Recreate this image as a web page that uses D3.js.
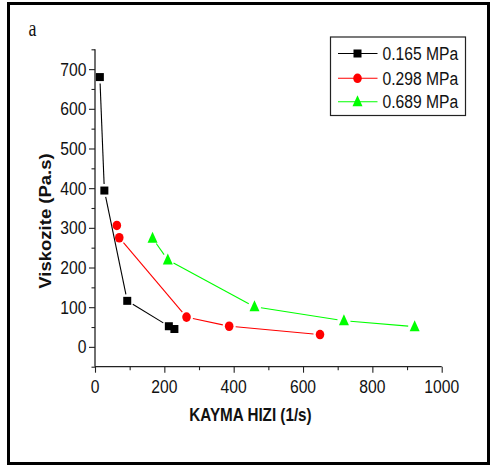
<!DOCTYPE html>
<html><head><meta charset="utf-8">
<script src="https://cdn.jsdelivr.net/npm/d3@7"></script>
<style>html,body{margin:0;padding:0;background:#fff}svg{display:block}</style>
</head><body>
<svg id="c" width="491" height="466"></svg>
<script>
const seriesNames = ["0.165 MPa", "0.298 MPa", "0.689 MPa"];
const seriesColors = ["#000000", "#ff0000", "#00ff00"];
const seriesShapes = ["square", "circle", "triangle"];
const x1 = [14, 27, 93, 213, 229];
const y1 = [680, 394, 116, 52, 45];
const x2 = [63, 70, 264, 387, 649];
const y2 = [306, 275, 75, 52, 31];
const x3 = [166, 210, 460, 718, 922];
const y3 = [274, 219, 101, 66, 51];
const xTicks = [0, 200, 400, 600, 800, 1000];
const yTicks = [0, 100, 200, 300, 400, 500, 600, 700];
const xTitle = "KAYMA HIZI (1/s)";
const yTitle = "Viskozite (Pa.s)";
const panelLabel = "a";

const series = [
  {name: seriesNames[0], color: seriesColors[0], shape: seriesShapes[0], xs: x1, ys: y1},
  {name: seriesNames[1], color: seriesColors[1], shape: seriesShapes[1], xs: x2, ys: y2},
  {name: seriesNames[2], color: seriesColors[2], shape: seriesShapes[2], xs: x3, ys: y3}
];

const svg = d3.select("#c");
const SX = 0.87; // horizontal squash of text
const font = "Arial, 'Liberation Sans', sans-serif";

// outer frame
svg.append("rect").attr("x", 8.5).attr("y", 3.5).attr("width", 480).attr("height", 460)
  .attr("fill", "none").attr("stroke", "#000").attr("stroke-width", 3);

const pl = svg.append("text").attr("x", 28.5).attr("y", 35.7).text(panelLabel)
  .attr("font-family", "'Liberation Serif', 'DejaVu Serif', serif").attr("font-size", 23).attr("fill", "#111");
pl.attr("transform", `translate(28.5,0) scale(0.78,1) translate(-28.5,0)`);

const L = 95, R = 441.7, T = 49.3, B = 366.7;
const x = d3.scaleLinear().domain([0, 1000]).range([L, R]);
const y = d3.scaleLinear().domain([-50, 750]).range([B, T]);

function sq(sel, cx, cy) {
  sel.attr("transform", `translate(${cx},${cy}) scale(${SX},1) translate(${-cx},${-cy})`);
}

// axes
const xAxis = d3.axisBottom(x).tickValues(d3.range(0, 1001, 100)).tickSize(5).tickFormat("");
const gx = svg.append("g").attr("transform", `translate(0,${B})`).call(xAxis);
gx.selectAll(".tick line").attr("y2", (d) => d % 200 === 0 ? 6 : 3.5);
const yAxis = d3.axisLeft(y).tickValues(d3.range(-50, 751, 50)).tickSize(5).tickFormat("");
const gy = svg.append("g").attr("transform", `translate(${L},0)`).call(yAxis);
gy.selectAll(".tick line").attr("x2", (d) => d % 100 === 0 ? -6 : -3.5);
[gx, gy].forEach(g => {
  g.select(".domain").attr("stroke", "#222").attr("stroke-width", 1.3);
  g.selectAll(".tick line").attr("stroke", "#222").attr("stroke-width", 1.1);
});
gy.select(".domain").attr("d", `M0,${B}V${T}`);
gx.select(".domain").attr("d", `M${L},0H${R}`);

// tick labels
xTicks.forEach(v => {
  const t = svg.append("text").attr("x", x(v)).attr("y", 393).attr("text-anchor", "middle")
    .attr("font-family", font).attr("font-size", 18).attr("fill", "#111").text(v);
  sq(t, x(v), 393);
});
yTicks.forEach(v => {
  const t = svg.append("text").attr("x", 86.5).attr("y", y(v) + 6.5).attr("text-anchor", "end")
    .attr("font-family", font).attr("font-size", 18).attr("fill", "#111").text(v);
  sq(t, 86.5, y(v));
});

// axis titles
const xt = svg.append("text").attr("x", 250.5).attr("y", 421).attr("text-anchor", "middle")
  .attr("font-family", font).attr("font-weight", "bold").attr("font-size", 17.5).attr("fill", "#111").text(xTitle);
sq(xt, 250.5, 421);
svg.append("text").attr("text-anchor", "middle")
  .attr("transform", `translate(51,221) scale(${SX},1) rotate(-90)`)
  .attr("font-family", font).attr("font-weight", "bold").attr("font-size", 18.5).attr("fill", "#111").text(yTitle);

// markers
function marker(g, shape, cx, cy, color) {
  if (shape === "square") {
    g.append("rect").attr("x", cx - 4).attr("y", cy - 4).attr("width", 8).attr("height", 8).attr("fill", color);
  } else if (shape === "circle") {
    g.append("ellipse").attr("cx", cx).attr("cy", cy).attr("rx", 4.3).attr("ry", 4.8).attr("fill", color);
  } else {
    g.append("path").attr("d", `M${cx},${cy - 6.5}L${cx + 5},${cy + 4.5}L${cx - 5},${cy + 4.5}Z`).attr("fill", color);
  }
}

const gap = 6.5;
series.forEach(s => {
  const g = svg.append("g");
  const pts = s.xs.map((v, i) => [x(v), y(s.ys[i])]);
  for (let i = 0; i < pts.length - 1; i++) {
    const [ax, ay] = pts[i], [bx, by] = pts[i + 1];
    const dx = bx - ax, dy = by - ay, len = Math.hypot(dx, dy);
    if (len <= 2 * gap) continue;
    const ux = dx / len, uy = dy / len;
    g.append("line").attr("x1", ax + ux * gap).attr("y1", ay + uy * gap)
      .attr("x2", bx - ux * gap).attr("y2", by - uy * gap)
      .attr("stroke", s.color).attr("stroke-width", 1.1);
  }
  pts.forEach(p => marker(g, s.shape, p[0], p[1], s.color));
});

// legend
svg.append("rect").attr("x", 330.5).attr("y", 37).attr("width", 135).attr("height", 78.5)
  .attr("fill", "#fff").attr("stroke", "#222").attr("stroke-width", 1.2);
const ly = [53.5, 78.3, 101.7];
series.forEach((s, i) => {
  const g = svg.append("g");
  g.append("line").attr("x1", 338).attr("x2", 377.5).attr("y1", ly[i]).attr("y2", ly[i])
    .attr("stroke", s.color).attr("stroke-width", 1.1);
  marker(g, s.shape, 357.5, ly[i], s.color);
  const t = svg.append("text").attr("x", 382.5).attr("y", ly[i] + 6.5)
    .attr("font-family", font).attr("font-size", 18).attr("fill", "#111").text(s.name);
  sq(t, 382.5, ly[i]);
});
</script>
</body></html>
